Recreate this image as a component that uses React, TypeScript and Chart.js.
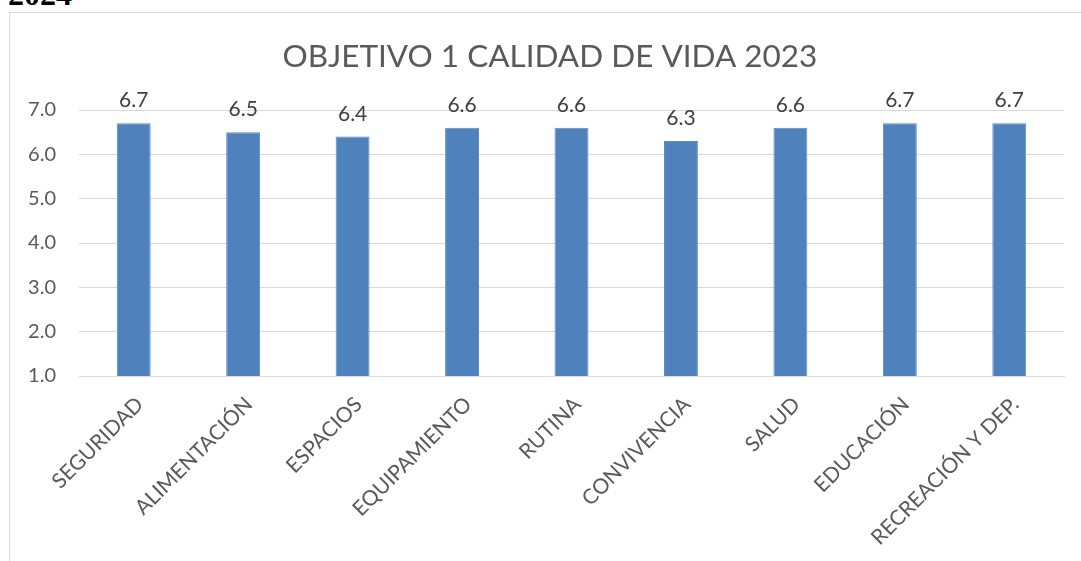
import React, { useEffect, useRef } from "react";
import { Chart, registerables } from "chart.js";

Chart.register(...registerables);

const categories = [
  "SEGURIDAD",
  "ALIMENTACIÓN",
  "ESPACIOS",
  "EQUIPAMIENTO",
  "RUTINA",
  "CONVIVENCIA",
  "SALUD",
  "EDUCACIÓN",
  "RECREACIÓN Y DEP.",
];
const values = [6.7, 6.5, 6.4, 6.6, 6.6, 6.3, 6.6, 6.7, 6.7];
const chartTitle = "OBJETIVO 1 CALIDAD DE VIDA 2023";
const headerText = "2024";

const FONT = "Lato, 'Open Sans', sans-serif";

const valueLabels = {
  id: "valueLabels",
  afterDatasetsDraw(chart: any) {
    const ctx = chart.ctx;
    const meta = chart.getDatasetMeta(0);
    ctx.save();
    ctx.font = `21px ${FONT}`;
    ctx.fillStyle = "#404040";
    ctx.textAlign = "center";
    ctx.textBaseline = "alphabetic";
    meta.data.forEach((bar: any, i: number) => {
      ctx.fillText(values[i].toFixed(1), bar.x, bar.y - 16);
    });
    ctx.restore();
  },
};

const titlePlugin = {
  id: "customTitle",
  afterDraw(chart: any) {
    const ctx = chart.ctx;
    ctx.save();
    ctx.font = `31.5px ${FONT}`;
    ctx.fillStyle = "#595959";
    ctx.textAlign = "center";
    ctx.textBaseline = "alphabetic";
    ctx.fillText(chartTitle, 550, 67);
    ctx.restore();
  },
};

export default function App() {
  const ref = useRef<HTMLCanvasElement>(null);
  useEffect(() => {
    if (!ref.current) return;
    const chart = new Chart(ref.current, {
      type: "bar",
      data: {
        labels: categories,
        datasets: [
          {
            data: values,
            backgroundColor: "#4F81BD",
            borderColor: "#5B8CC6",
            borderWidth: 1,
            barPercentage: 0.31,
            categoryPercentage: 1,
          },
        ],
      },
      options: {
        responsive: false,
        animation: false,
        layout: { padding: { left: 0, right: 17, top: 110, bottom: 0 } },
        plugins: {
          legend: { display: false },
          tooltip: { enabled: false },
          title: { display: false },
        },
        scales: {
          x: {
            grid: { display: false, drawTicks: false },
            border: { display: true, color: "#d9d9d9", width: 1 },
            ticks: {
              color: "#595959",
              font: { family: FONT, size: 21 },
              minRotation: 45,
              maxRotation: 45,
              padding: 16,
              labelOffset: 6,
            },
            afterFit(scale: any) {
              scale.height = 185;
            },
          },
          y: {
            min: 1,
            max: 7,
            grid: { color: "#d9d9d9", lineWidth: 1, drawTicks: false },
            border: { display: false },
            ticks: {
              stepSize: 1,
              color: "#595959",
              font: { family: FONT, size: 20 },
              padding: 23,
              callback: (v: any) => Number(v).toFixed(1),
            },
            afterFit(scale: any) {
              scale.width = 79;
            },
          },
        },
      },
      plugins: [valueLabels, titlePlugin],
    });
    return () => chart.destroy();
  }, []);

  return (
    <div
      style={{
        position: "absolute",
        left: 0,
        top: 0,
        width: 1081,
        height: 561,
        background: "#fff",
        overflow: "hidden",
      }}
    >
      <div
        style={{
          position: "absolute",
          left: 8,
          top: -22,
          fontFamily: "'Liberation Serif', 'DejaVu Serif', serif",
          fontWeight: "bold",
          fontSize: 32,
          lineHeight: "32px",
          color: "#000",
        }}
      >
        {headerText}
      </div>
      <div
        style={{
          position: "absolute",
          left: 9,
          top: 12,
          width: 1100,
          height: 600,
          border: "1px solid #d9d9d9",
        }}
      />
      <canvas
        ref={ref}
        width={1081}
        height={561}
        style={{ position: "absolute", left: 0, top: 0 }}
      />
    </div>
  );
}
